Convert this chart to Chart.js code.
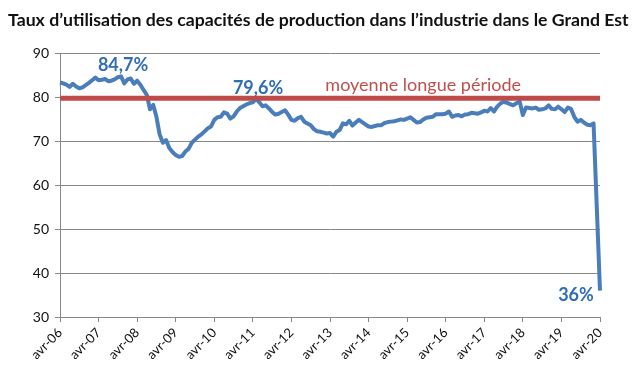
<!DOCTYPE html>
<html>
<head>
<meta charset="utf-8">
<script src="https://cdn.jsdelivr.net/npm/chart.js@4.4.1/dist/chart.umd.min.js"></script>
<style>
  html, body { margin: 0; padding: 0; background: #fff; }
  #wrap { width: 643px; height: 376px; }
</style>
</head>
<body>
<div id="wrap"><canvas id="tucChart" width="643" height="376"></canvas></div>
<script>
// ---- data ----
// one tick label per year, every 12 months
const tickLabels = ['avr-06', 'avr-07', 'avr-08', 'avr-09', 'avr-10', 'avr-11', 'avr-12',
    'avr-13', 'avr-14', 'avr-15', 'avr-16', 'avr-17', 'avr-18', 'avr-19', 'avr-20'];

// taux d'utilisation, monthly, avril 2006 -> avril 2020
const tucGrandEst = [
    83.3, 83.1, 82.8, 82.3, 83.0, 82.4, 82.0, 82.2, 82.7, 83.2, 83.8, 84.4,
    83.8, 83.9, 84.1, 83.6, 83.7, 84.0, 84.5, 84.7, 83.1, 84.0, 84.2, 83.0,
    83.7, 82.8, 81.6, 80.5, 77.2, 78.2, 75.5, 71.5, 69.6, 70.2, 68.4, 67.5,
    66.8, 66.4, 66.6, 67.6, 68.2, 69.6, 70.3, 71.0, 71.5, 72.2, 72.9, 73.3,
    74.8, 75.4, 75.5, 76.5, 76.2, 75.1, 75.6, 76.7, 77.5, 77.9, 78.3, 78.6,
    78.8, 79.6, 78.8, 77.9, 78.1, 77.4, 76.6, 76.0, 76.2, 76.6, 77.0, 76.0,
    74.8, 74.6, 75.2, 75.5, 74.4, 74.0, 73.6, 72.7, 72.2, 72.1, 71.9, 71.7,
    71.8, 71.0, 72.1, 72.5, 74.0, 73.8, 74.6, 73.5, 74.2, 74.8, 74.3, 73.8,
    73.3, 73.2, 73.4, 73.6, 73.6, 74.1, 74.3, 74.4, 74.5, 74.7, 74.9, 74.8,
    75.1, 75.4, 74.8, 74.2, 74.3, 74.9, 75.3, 75.4, 75.5, 76.1, 76.1, 76.1,
    76.2, 76.7, 75.5, 75.8, 75.9, 75.6, 76.0, 76.1, 76.4, 76.3, 76.2, 76.5,
    76.9, 76.7, 77.5, 76.7, 77.8, 78.5, 78.9, 78.7, 78.4, 78.1, 78.6, 79.0,
    75.9, 77.6, 77.5, 77.4, 77.6, 77.1, 77.2, 77.4, 78.1, 77.3, 77.2, 77.8,
    77.2, 76.6, 77.6, 77.3, 75.5, 74.4, 74.8, 74.2, 73.7, 73.6, 74.0, 55.0,
    36.0
];

const moyenneLongue = 79.7;

// text notes: [label, index of month, value it sits on]
const notes = [
    ['84,7%', 19, 84.7],
    ['79,6%', 61, 79.6],
    ['36%', 168, 36.0]
];

const titleText = 'Taux d\u2019utilisation des capacités de production dans l\u2019industrie dans le Grand Est';

// ---- build what chart.js needs ----
const labels = tucGrandEst.map(function (v, i) {
    return i % 12 == 0 ? tickLabels[i / 12] : '';
});
const moyenneLine = tucGrandEst.map(function () { return moyenneLongue; });

// title drawn by hand: the built-in one gets squeezed to the chart width
const titlePlugin = {
    id: 'bigTitle',
    beforeDraw: function (chart) {
        const ctx = chart.ctx;
        ctx.save();
        ctx.font = 'bold 17.7px Lato, "Open Sans", sans-serif';
        ctx.fillStyle = '#111';
        ctx.textAlign = 'left';
        ctx.textBaseline = 'middle';
        ctx.fillText(titleText, 8, 20);
        ctx.restore();
    }
};

// draw the value labels and the "moyenne" caption using the scales
const notesPlugin = {
    id: 'notes',
    afterDatasetsDraw: function (chart) {
        const ctx = chart.ctx;
        const xs = chart.scales.x;
        const ys = chart.scales.y;
        ctx.save();
        ctx.textAlign = 'center';
        ctx.textBaseline = 'middle';
        ctx.font = 'bold 18px Lato, "Open Sans", sans-serif';
        ctx.fillStyle = '#2F6EB5';
        notes.forEach(function (n) {
            var x = xs.getPixelForValue(n[1]);
            var y = ys.getPixelForValue(n[2]);
            if (n[2] < 50) {
                ctx.fillText(n[0], x - 24, y + 5);
            } else {
                ctx.fillText(n[0], x + 2, y - 11);
            }
        });
        ctx.font = '18px Lato, "Open Sans", sans-serif';
        ctx.fillStyle = '#C0504D';
        ctx.fillText('moyenne longue période', xs.getPixelForValue(113), ys.getPixelForValue(moyenneLongue) - 13);
        ctx.restore();
    }
};

var ctx = document.getElementById('tucChart');

var tucChart = new Chart(ctx, {
    type: 'line',
    data: {
        labels: labels,
        datasets: [{
            label: 'moyenne longue période',
            data: moyenneLine,
            borderColor: '#BE4B48',
            borderWidth: 5,
            pointRadius: 0,
            order: 0
        }, {
            label: "Taux d'utilisation",
            data: tucGrandEst,
            borderColor: '#4A7EBB',
            borderWidth: 4,
            pointRadius: 0,
            tension: 0,
            borderJoinStyle: 'round',
            order: 1
        }]
    },
    options: {
        responsive: false,
        animation: false,
        layout: { padding: { left: 8, right: 43, top: 53, bottom: 0 } },
        plugins: {
            legend: { display: false },
            tooltip: { enabled: false },
            title: { display: false }
        },
        scales: {
            x: {
                ticks: {
                    autoSkip: false,
                    maxRotation: 45,
                    minRotation: 45,
                    color: '#111',
                    font: { family: 'Lato, "Open Sans", sans-serif', size: 13 },
                    callback: function (val, i) {
                        return i % 12 == 0 ? this.getLabelForValue(val) : null;
                    }
                },
                grid: { drawOnChartArea: false, drawTicks: true, tickLength: 5, color: '#888' },
                border: { color: '#888' },
                afterFit: function (scale) { scale.height = 59; }
            },
            y: {
                min: 30,
                max: 90,
                ticks: {
                    stepSize: 10,
                    color: '#111',
                    padding: 6,
                    font: { family: 'Lato, "Open Sans", sans-serif', size: 14 }
                },
                grid: { color: '#888', tickLength: 5 },
                border: { color: '#888' },
                afterFit: function (scale) { scale.width = 52; }
            }
        }
    },
    plugins: [titlePlugin, notesPlugin]
});
</script>
</body>
</html>
